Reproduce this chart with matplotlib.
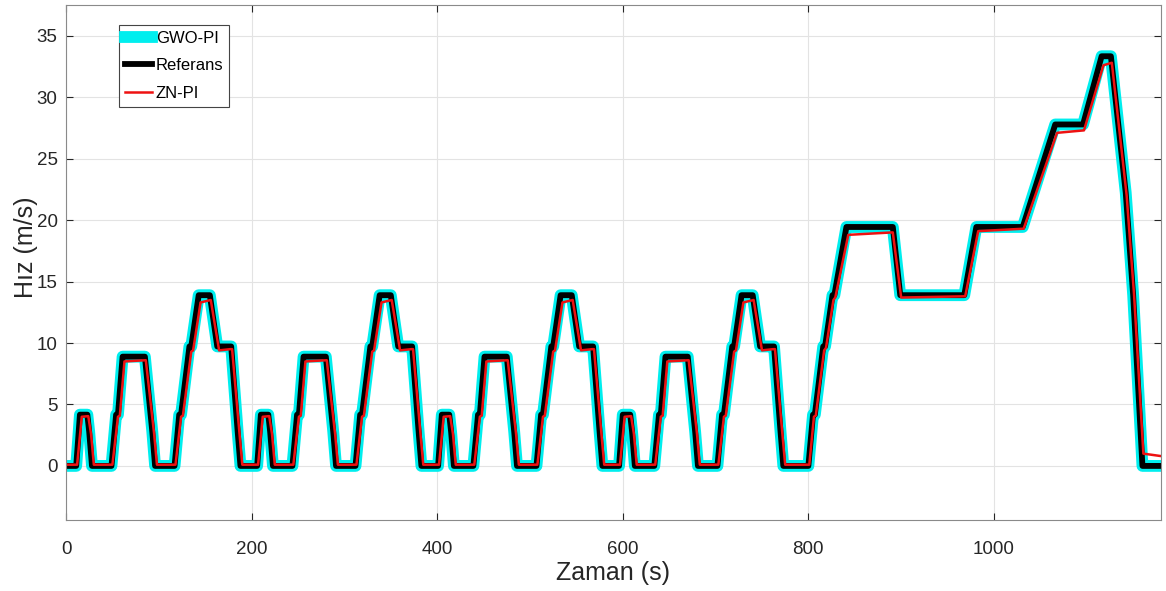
import numpy as np
import matplotlib
matplotlib.use("Agg")
import matplotlib.pyplot as plt

# NEDC speed profile (m/s) - one ECE-15 urban cycle, repeated 4 times
ece_t = [0, 11, 15, 23, 25, 28, 49, 54, 56, 61, 85, 93, 96, 117, 122, 124,
         133, 135, 143, 155, 163, 176, 178, 185, 188, 195]
ece_ref = [0, 0, 4.17, 4.17, 2.78, 0, 0, 4.17, 4.17, 8.89, 8.89, 2.78, 0, 0,
           4.17, 4.17, 9.72, 9.72, 13.89, 13.89, 9.72, 9.72, 9.72, 2.78, 0, 0]

# ZN-PI response over one ECE cycle (lags a bit, sits a bit low)
zn_ece_t = [0, 12, 17, 24, 27, 30, 50, 56, 58, 63, 86, 95, 98, 118, 124, 126,
            135, 137, 145, 156, 165, 177, 179, 187, 190, 195]
zn_ece_v = [0.1, 0.1, 4.0, 4.05, 2.6, 0.1, 0.1, 4.0, 4.1, 8.5, 8.6, 2.6, 0.1,
            0.1, 4.0, 4.1, 9.3, 9.4, 13.3, 13.5, 9.4, 9.5, 9.5, 2.6, 0.1, 0.1]
ece_len = 195
n_ece = 4

# extra-urban part (EUDC)
eudc_t = [780, 800, 805, 807, 816, 818, 826, 828, 841, 891, 899, 968, 981,
          1031, 1066, 1096, 1116, 1126, 1142, 1150, 1160, 1180]
eudc_ref = [0, 0, 4.17, 4.17, 9.72, 9.72, 13.89, 13.89, 19.44, 19.44, 13.89,
            13.89, 19.44, 19.44, 27.78, 27.78, 33.33, 33.33, 22.22, 13.89, 0, 0]
zn_eudc_t = [780, 801, 806, 808, 817, 819, 827, 829, 843, 891, 900, 969, 983,
             1032, 1068, 1097, 1118, 1127, 1143, 1151, 1161, 1180]
zn_eudc_v = [0.1, 0.1, 4.0, 4.1, 9.4, 9.6, 13.5, 13.7, 18.8, 19.0, 13.7, 13.8,
             19.1, 19.3, 27.1, 27.3, 32.6, 32.8, 22.0, 13.9, 1.0, 0.8]

x_ticks = [0, 200, 400, 600, 800, 1000]
y_ticks = [0, 5, 10, 15, 20, 25, 30, 35]


def build(t_cycle, v_cycle, t_extra, v_extra):
    t, v = [], []
    for k in range(n_ece):
        t += [x + k * ece_len for x in t_cycle]
        v += list(v_cycle)
    return np.array(t + list(t_extra)), np.array(v + list(v_extra))


t_ref, v_ref = build(ece_t, ece_ref, eudc_t, eudc_ref)
t_gwo, v_gwo = t_ref, v_ref  # GWO-PI tracks the reference almost exactly
t_zn, v_zn = build(zn_ece_t, zn_ece_v, zn_eudc_t, zn_eudc_v)

plt.rcParams["font.family"] = ["Liberation Sans", "DejaVu Sans"]

fig = plt.figure(figsize=(11.66, 5.91), dpi=100)
ax = fig.add_axes([66 / 1166, 1 - 520 / 591, (1161 - 66) / 1166, (520 - 5) / 591])

ax.plot(t_gwo, v_gwo, color="#00eeee", lw=8.5, solid_joinstyle="round", label="GWO-PI")
ax.plot(t_ref, v_ref, color="black", lw=4.2, label="Referans")
ax.plot(t_zn, v_zn, color="#ee1111", lw=1.8, label="ZN-PI")

ax.set_xlim(0, 1180)
ax.set_ylim(-4.4, 37.5)
ax.set_xticks(x_ticks)
ax.set_yticks(y_ticks)
ax.grid(True, color="#e3e3e3", lw=0.8)
ax.set_axisbelow(True)
ax.tick_params(direction="in", length=5, top=True, right=True,
               labelsize=13.5, colors="#262626")
ax.tick_params(axis="x", pad=15)
ax.tick_params(axis="y", pad=6)
for s in ax.spines.values():
    s.set_color("#8a8a8a")

ax.set_xlabel("Zaman (s)", fontsize=18, color="#262626", labelpad=2)
ax.set_ylabel("Hız (m/s)", fontsize=18, color="#262626")
ax.yaxis.set_label_coords(-0.026, 0.53)

leg = ax.legend(loc="upper left", bbox_to_anchor=(119 / 1166, 1 - 25 / 591),
                bbox_transform=fig.transFigure, fancybox=False, framealpha=1,
                edgecolor="#444444", fontsize=12, handlelength=1.6,
                handletextpad=0.25, borderpad=0.35, labelspacing=0.75,
                borderaxespad=0)
leg.get_frame().set_linewidth(0.8)

fig.savefig("out.png", dpi=100)
